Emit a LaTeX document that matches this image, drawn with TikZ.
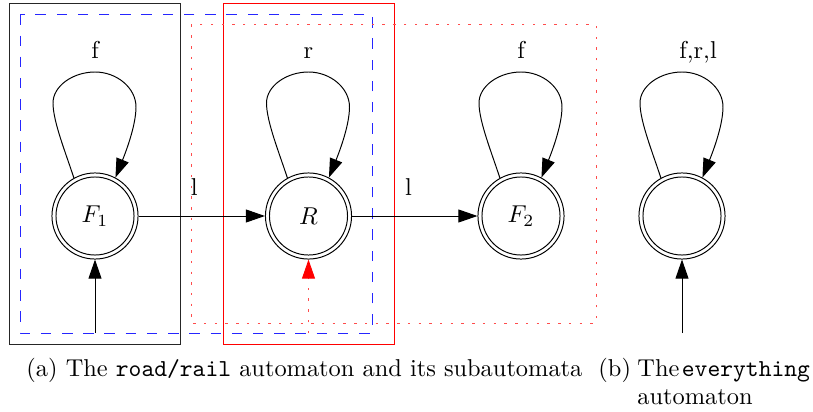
\documentclass[tikz,border=0pt]{standalone}
\usetikzlibrary{arrows.meta,calc}
\begin{document}
\begin{tikzpicture}[x=0.41pt,y=-0.41pt,
  state/.style={circle,draw,minimum size=35.3pt,inner sep=0pt},
  tip/.style={-{Triangle[length=7.8pt,width=5.3pt]}},
  edge/.style={draw,tip},
  lbl/.style={anchor=base,inner sep=0pt},
  captext/.style={anchor=base west,inner sep=0pt},
  blockA/.style={draw=black!85},
  blockB/.style={draw=red},
  blueset/.style={draw=blue!85,dash pattern=on 4.3pt off 4.4pt},
  redset/.style={draw=red!70,dash pattern=on 1pt off 3.4pt},
]
\useasboundingbox (0,0) rectangle (813,412);

% subautomata frames
\draw[blockA] (9,3.5) rectangle (180,344);
\draw[blockB] (223,3.5) rectangle (394,344);
\draw[blueset] (20,14.3) rectangle (372,333);
\draw[redset] (191,24.7) rectangle (596,323);

% states
\node[state] (F1) at (95,216) {$F_1$};
\node[state] (R) at (308.5,216) {$R$};
\node[state] (F2) at (521,216) {$F_2$};
\node[state] (E) at (682,216) {};
\foreach \n in {F1,R,F2,E} \draw (\n.center) circle[radius=16pt];

% self loops: node, label, label shift
\newcommand\selfloop[3]{%
  \draw[edge] (#1.119)
    .. controls ($(#1.center)+(-30,-65)$) and ($(#1.center)+(-42,-95)$) .. ($(#1.center)+(-42,-113)$)
    .. controls ($(#1.center)+(-42,-130)$) and ($(#1.center)+(-22,-144)$) .. ($(#1.center)+(0,-144)$)
    node[lbl,yshift=5.7pt,xshift=#3] {#2}
    .. controls ($(#1.center)+(22,-144)$) and ($(#1.center)+(41,-128)$) .. ($(#1.center)+(41,-109)$)
    .. controls ($(#1.center)+(41,-90)$) and ($(#1.center)+(30,-62)$) .. (#1.62);}
\selfloop{F1}{f}{0pt}
\selfloop{R}{r}{0pt}
\selfloop{F2}{f}{0pt}
\selfloop{E}{f,r,l}{6.6pt}

% transitions
\draw[edge] (F1) -- node[lbl,pos=0.44,yshift=8.6pt] {l} (R);
\draw[edge] (R) -- node[lbl,pos=0.45,yshift=8.6pt] {l} (F2);

% initial arrows
\coordinate (s1) at (95,333);
\coordinate (s2) at (308.5,333);
\coordinate (s4) at (682,333);
\draw[edge] (s1) -- (F1);
\draw[redset,-{Triangle[length=7.8pt,width=5.3pt,fill=red,color=red]}] (s2) -- (R);
\draw[edge] (s4) -- (E);

% captions
\node[captext] (capa) at (26,376) {(a) The \texttt{road/rail} automaton and its subautomata};
\node[captext] (capb) at (598,376) {(b)};
\node[captext] (capbt) at (637,376) {The\hspace{1pt}\texttt{everything}};
\node[captext] (capc) at (637,404) {automaton};
\end{tikzpicture}
\end{document}
